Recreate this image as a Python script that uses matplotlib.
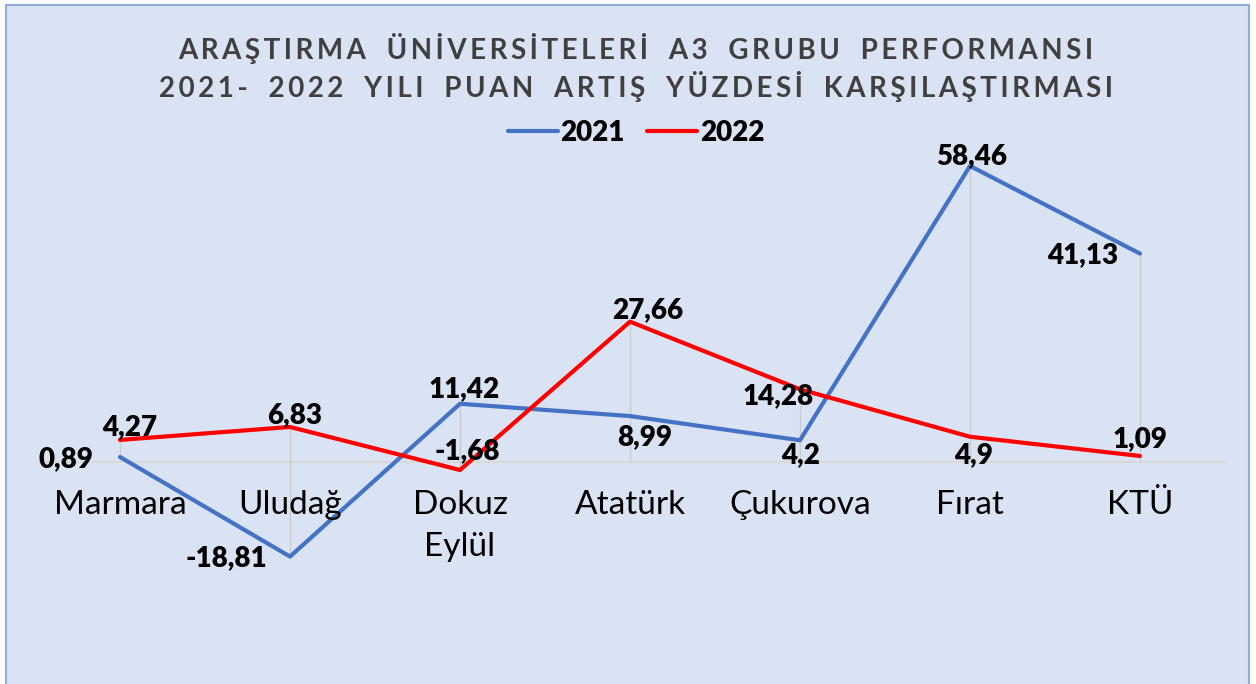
import matplotlib
matplotlib.use('Agg')
import matplotlib.pyplot as plt
from matplotlib.patches import Rectangle

universities = ['Marmara', 'Uludağ', 'Dokuz\nEylül', 'Atatürk', 'Çukurova', 'Fırat', 'KTÜ']
values_2021 = [0.89, -18.81, 11.42, 8.99, 4.2, 58.46, 41.13]
values_2022 = [4.27, 6.83, -1.68, 27.66, 14.28, 4.9, 1.09]
series_names = ['2021', '2022']
title_lines = ['ARAŞTIRMA ÜNİVERSİTELERİ A3 GRUBU PERFORMANSI',
               '2021- 2022 YILI PUAN ARTIŞ YÜZDESİ KARŞILAŞTIRMASI']

# label offsets in pixels (dx, dy)
OFFSETS_2021 = [(-54, -2), (-64, -2), (4, 15), (15, -21), (1, -15), (2, 10), (-57, -2)]
OFFSETS_2022 = [(10, 13), (5, 12), (7, 19), (18, 12), (-22, -7), (4, -18), (0, 17)]

BG = '#DAE3F3'
BLUE = '#4472C4'
RED = '#FF0000'
W, H = 1256, 684
FONT = ['Lato', 'DejaVu Sans']


def fmt(v):
    return ('%g' % v).replace('.', ',')


def spaced(s):
    # wide letter spacing like the original title
    return '\u2009'.join(s).replace('\u2009 \u2009', '\u2009\u2009 \u2009\u2009')


fig = plt.figure(figsize=(W / 100, H / 100), dpi=100)
fig.patch.set_facecolor('white')
fig.patches.append(Rectangle((6 / W, -0.1), 1243 / W, 1.1 - 5 / H,
                             transform=fig.transFigure, facecolor=BG,
                             edgecolor='#8FAADC', linewidth=1.5, zorder=-10))

# plot area in pixels: x 35..1225, y 140..600 (zero line at 461.5)
ax = fig.add_axes([35 / W, (H - 600) / H, 1190 / W, 460 / H])
ax.set_facecolor('none')
ppu = 5.055
ax.set_xlim(-0.5, len(universities) - 0.5)
ax.set_ylim(-(600 - 461.5) / ppu, (461.5 - 140) / ppu)
ax.axis('off')

ax.axhline(0, color='#D9D9D9', linewidth=1.5, zorder=1)
x = list(range(len(universities)))
for i in x:
    lo = min(0, values_2021[i], values_2022[i])
    hi = max(0, values_2021[i], values_2022[i])
    ax.vlines(i, lo, hi, color='#C9CCD1', linewidth=1, zorder=1)

lab_font = dict(family=FONT, fontsize=20, fontweight='heavy', color='black')
l1, = ax.plot(x, values_2021, color=BLUE, linewidth=3, solid_capstyle='round', zorder=3)
l2, = ax.plot(x, values_2022, color=RED, linewidth=3, solid_capstyle='round', zorder=4)

for i in x:
    ax.annotate(fmt(values_2021[i]), (i, values_2021[i]),
                xytext=OFFSETS_2021[i], textcoords='offset pixels',
                ha='center', va='center', zorder=5, **lab_font)
    ax.annotate(fmt(values_2022[i]), (i, values_2022[i]),
                xytext=OFFSETS_2022[i], textcoords='offset pixels',
                ha='center', va='center', zorder=5, **lab_font)

for i, name in enumerate(universities):
    ax.annotate(name, (i, 0), xytext=(0, -29), textcoords='offset pixels',
                ha='center', va='top', fontsize=24, family=FONT,
                color='black', linespacing=1.48)

# title
for k, line in enumerate(title_lines):
    fig.text(636 / W, 1 - (48 + 38 * k) / H, spaced(line), ha='center', va='center',
             fontsize=20, fontweight='bold', color='#404040', family=FONT)

leg = fig.legend([l1, l2], series_names, loc='center', bbox_to_anchor=(636 / W, 1 - 133 / H),
                 ncol=2, frameon=False, handlelength=1.8, handletextpad=0.1,
                 columnspacing=0.8, prop=dict(family=FONT, size=20, weight='heavy'))

fig.savefig('out.png', dpi=100, facecolor='white')
